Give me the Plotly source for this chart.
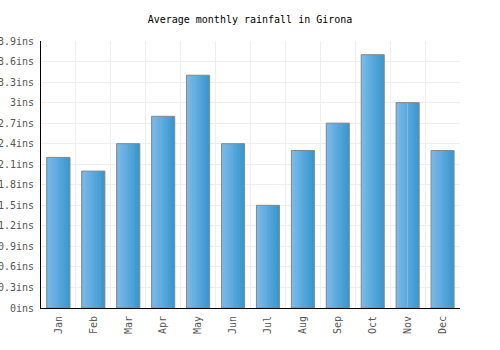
import plotly.graph_objects as go

months = ["Jan", "Feb", "Mar", "Apr", "May", "Jun", "Jul", "Aug", "Sep", "Oct", "Nov", "Dec"]
rainfall = [2.2, 2.0, 2.4, 2.8, 3.4, 2.4, 1.5, 2.3, 2.7, 3.7, 3.0, 2.3]
tick_vals = [0, 0.3, 0.6, 0.9, 1.2, 1.5, 1.8, 2.1, 2.4, 2.7, 3.0, 3.3, 3.6, 3.9]
tick_text = ["0ins", "0.3ins", "0.6ins", "0.9ins", "1.2ins", "1.5ins", "1.8ins", "2.1ins",
             "2.4ins", "2.7ins", "3ins", "3.3ins", "3.6ins", "3.9ins"]

FONT = "DejaVu Sans Mono"
W = 0.66
N = 12
c0 = (124, 186, 234)
c1 = (58, 152, 208)

fig = go.Figure()
for i in range(N):
    t = i / (N - 1)
    col = "rgb(%d,%d,%d)" % tuple(round(a + (b - a) * t) for a, b in zip(c0, c1))
    fig.add_trace(go.Bar(
        x=months, y=rainfall, width=W / N + 0.002, offset=-W / 2 + i * W / N,
        marker=dict(color=col, line=dict(width=0)), hoverinfo="skip", showlegend=False,
    ))
fig.add_trace(go.Bar(
    x=months, y=rainfall, width=W, offset=-W / 2,
    marker=dict(color="rgba(0,0,0,0)", line=dict(color="#888888", width=1)),
    showlegend=False,
))

fig.update_layout(
    width=500, height=350,
    margin=dict(l=41, r=40, t=41, b=42),
    barmode="overlay",
    paper_bgcolor="white", plot_bgcolor="white",
    title=dict(text="Average monthly rainfall in Girona", x=0.5, xanchor="center",
               y=0.943, yanchor="middle", font=dict(family=FONT, size=10, color="black")),
    font=dict(family=FONT, size=10, color="#555555"),
)
fig.update_xaxes(
    type="category", tickangle=-90, showline=True, linecolor="black", linewidth=1,
    ticks="", tickfont=dict(family=FONT, size=10, color="#555555"),
    range=[-0.5, 11.5], automargin=False, ticklabelstandoff=3,
    tickson="boundaries", showgrid=True, gridcolor="#eeeeee", gridwidth=1,
)
fig.update_yaxes(
    range=[0, 3.9], tickvals=tick_vals, ticktext=tick_text, showline=True,
    linecolor="black", linewidth=1, showgrid=True, gridcolor="#eeeeee", gridwidth=1,
    zeroline=False, ticks="", tickfont=dict(family=FONT, size=10, color="#555555"),
    automargin=False, ticklabelstandoff=4,
)

fig.write_html("out.html")
